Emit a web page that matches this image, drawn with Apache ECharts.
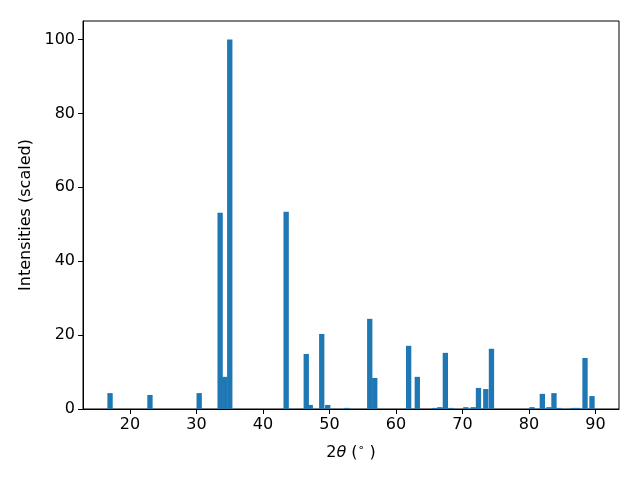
<!DOCTYPE html>
<html>
<head>
<meta charset="utf-8">
<script src="https://cdn.jsdelivr.net/npm/echarts@6/dist/echarts.min.js"></script>
<style>html,body{margin:0;padding:0;background:#fff;}#c{width:640px;height:480px;}</style>
</head>
<body>
<div id="c"></div>
<script>
const twoTheta = [17.0, 23.0, 30.4, 33.55, 34.25, 35.0, 43.48, 46.5, 47.1, 48.83, 49.73, 52.6, 56.05, 56.8, 61.9, 63.2, 65.85, 66.6, 67.42, 68.25, 70.5, 71.6, 72.4, 73.5, 74.35, 80.44, 82.0, 83.0, 83.75, 84.5, 86.6, 87.3, 88.42, 89.47];
const intensity = [4.3, 3.8, 4.3, 53.1, 8.7, 100, 53.4, 14.9, 1.1, 20.3, 1.1, 0.3, 24.4, 8.4, 17.1, 8.7, 0.3, 0.5, 15.2, 0.3, 0.5, 0.5, 5.7, 5.4, 16.3, 0.5, 4.1, 0.5, 4.3, 0.3, 0.3, 0.3, 13.8, 3.5];
const xTicks = [20, 30, 40, 50, 60, 70, 80, 90];
const yTicks = [0, 20, 40, 60, 80, 100];
const barWidth = 0.8;

const data = twoTheta.map((t, i) => [t, intensity[i]]);
const font = 'DejaVu Sans';
const chart = echarts.init(document.getElementById('c'), null, {renderer: 'canvas'});
chart.setOption({
  animation: false,
  backgroundColor: '#fff',
  grid: {left: 83, right: 21, top: 21, bottom: 71, show: true, borderColor: '#000', borderWidth: 1, backgroundColor: 'transparent'},
  xAxis: {
    type: 'value', min: 12.93, max: 93.53,
    splitLine: {show: false},
    axisLine: {show: true, lineStyle: {color: '#000', width: 1}},
    axisTick: {show: true, inside: false, length: 5, customValues: xTicks, lineStyle: {color: '#000'}},
    axisLabel: {customValues: xTicks, color: '#000', fontFamily: font, fontSize: 16, margin: 8},
    name: '{a|2}{i|θ}{a| (}{s|∘}{a| )}',
    nameLocation: 'middle', nameGap: 34,
    nameTextStyle: {color: '#000', fontFamily: font, fontSize: 16,
      rich: {a: {fontFamily: font, fontSize: 16, color: '#000'},
             i: {fontFamily: font, fontSize: 16, fontStyle: 'italic', color: '#000'},
             s: {fontFamily: font, fontSize: 11, color: '#000', padding: [0, 0, 8, 0]}}}
  },
  yAxis: {
    type: 'value', min: 0, max: 105,
    splitLine: {show: false},
    axisLine: {show: true, lineStyle: {color: '#000', width: 1}},
    axisTick: {show: true, inside: false, length: 5, customValues: yTicks, lineStyle: {color: '#000'}},
    axisLabel: {customValues: yTicks, color: '#000', fontFamily: font, fontSize: 16, margin: 8, padding: [3, 0, 0, 0]},
    name: 'Intensities (scaled)', nameLocation: 'middle', nameGap: 49, nameRotate: 90,
    nameTextStyle: {color: '#000', fontFamily: font, fontSize: 16}
  },
  series: [{
    type: 'custom',
    data: data,
    encode: {x: 0, y: 1},
    renderItem: function (params, api) {
      const x = api.value(0), y = api.value(1);
      const p0 = api.coord([x - barWidth / 2, y]);
      const p1 = api.coord([x + barWidth / 2, 0]);
      return {type: 'rect', shape: {x: p0[0], y: p0[1], width: p1[0] - p0[0], height: p1[1] - p0[1]}, style: {fill: '#1f77b4'}};
    }
  }]
});
</script>
</body>
</html>
